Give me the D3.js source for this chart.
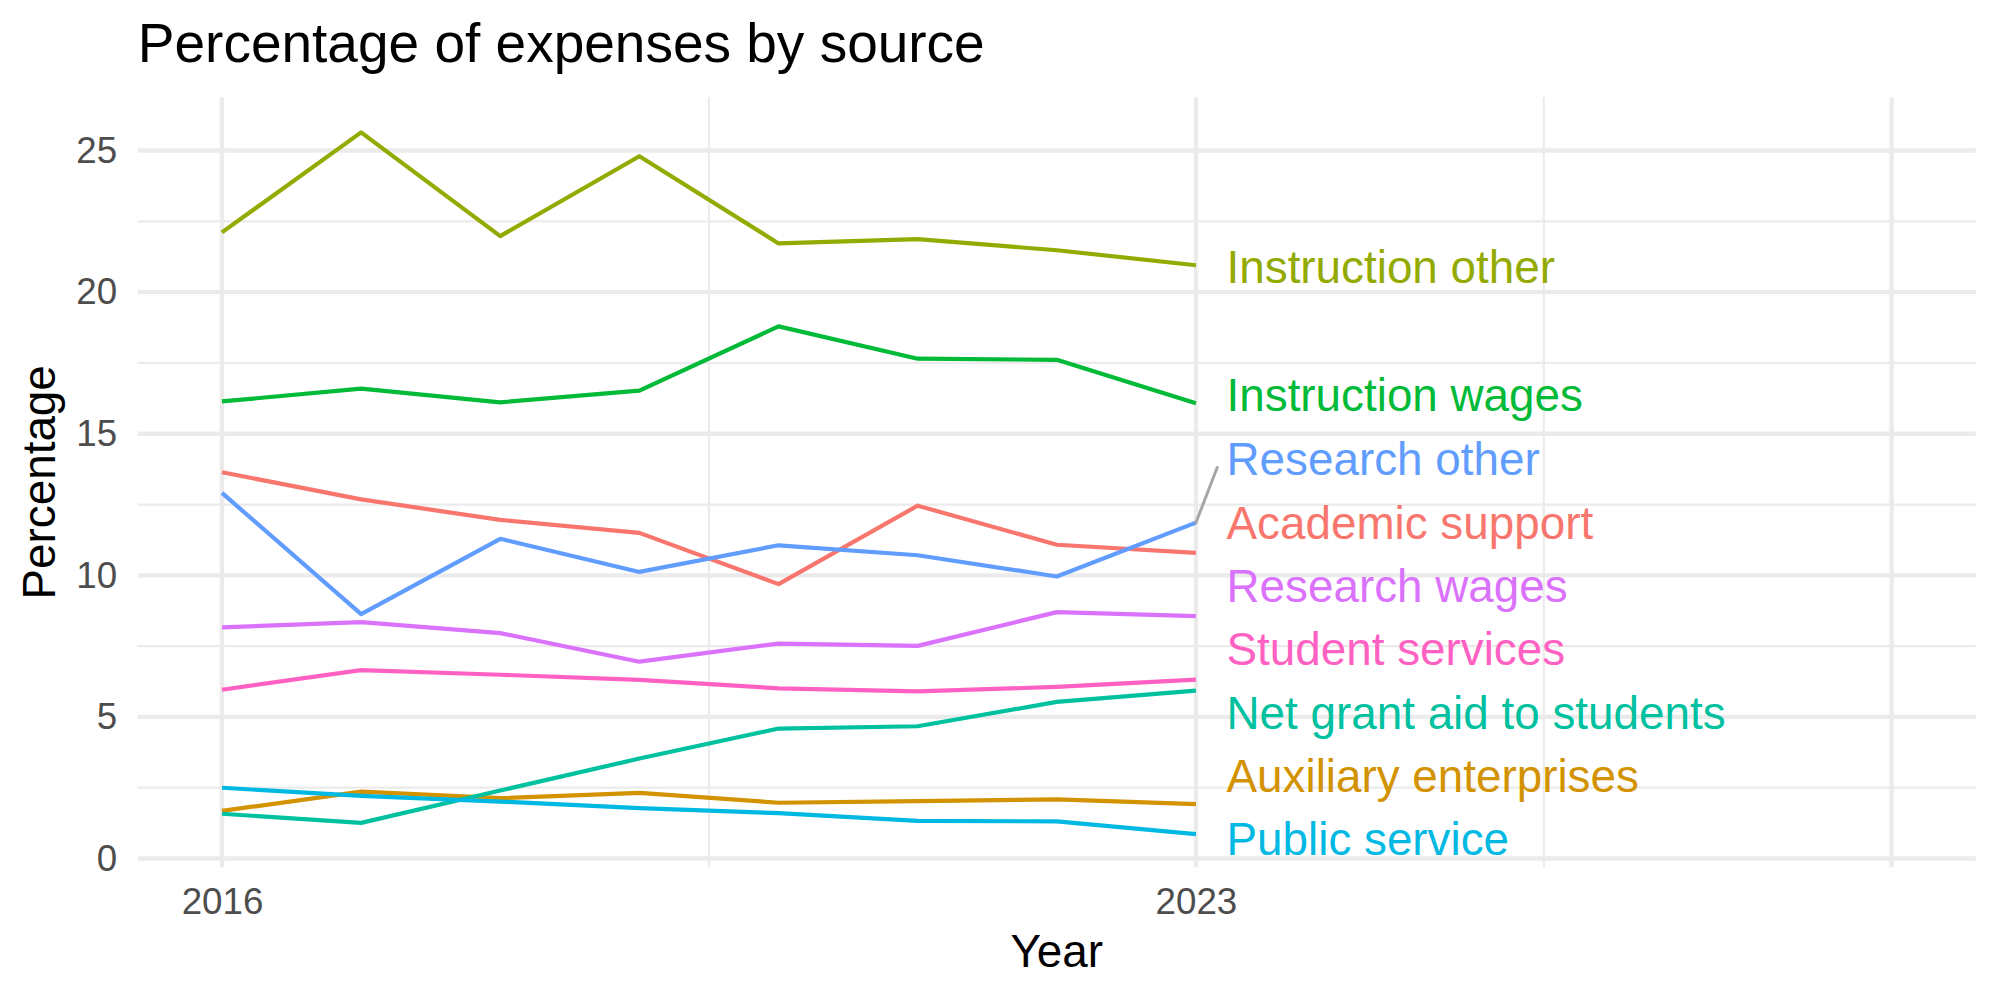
<!DOCTYPE html>
<html>
<head>
<meta charset="utf-8">
<script src="https://cdn.jsdelivr.net/npm/d3@7"></script>
<style>
  body { margin: 0; background: #fff; }
</style>
</head>
<body>
<div id="chart"></div>
<script>
const years = [2016, 2017, 2018, 2019, 2020, 2021, 2022, 2023];

const categories = [
    "Academic support", "Auxiliary enterprises", "Instruction other", "Instruction wages",
    "Net grant aid to students", "Public service", "Research other", "Research wages", "Student services"
];

const academicSupport = [13.64, 12.68, 11.96, 11.50, 9.69, 12.46, 11.08, 10.79];
const auxiliaryEnterprises = [1.68, 2.36, 2.13, 2.32, 1.97, 2.03, 2.09, 1.92];
const instructionOther = [22.11, 25.64, 21.98, 24.80, 21.72, 21.87, 21.48, 20.95];
const instructionWages = [16.14, 16.59, 16.11, 16.52, 18.79, 17.65, 17.61, 16.08];
const netGrantAid = [1.58, 1.26, 2.40, 3.53, 4.59, 4.67, 5.53, 5.93];
const publicService = [2.50, 2.21, 2.01, 1.78, 1.60, 1.33, 1.31, 0.86];
const researchOther = [12.91, 8.63, 11.29, 10.12, 11.06, 10.71, 9.96, 11.86];
const researchWages = [8.16, 8.35, 7.96, 6.95, 7.59, 7.51, 8.70, 8.56];
const studentServices = [5.96, 6.65, 6.49, 6.31, 6.01, 5.90, 6.06, 6.32];

const seriesValues = [
    academicSupport, auxiliaryEnterprises, instructionOther, instructionWages,
    netGrantAid, publicService, researchOther, researchWages, studentServices
];

const colors = ["#F8766D", "#D39200", "#93AA00", "#00BA38", "#00C19F", "#00B9E3", "#619CFF", "#DB72FB", "#FF61C3"];

// where the repelled labels ended up (value units), same order as categories
const labelY = [11.88, 2.93, 20.92, 16.38, 5.17, 0.71, 14.13, 9.64, 7.42];

const xBreaks = [2016, 2023, 2028];
const xTickLabels = ["2016", "2023", ""];
const xMinor = [2019.5, 2025.5];
const yBreaks = [0, 5, 10, 15, 20, 25];
const yMinor = [2.5, 7.5, 12.5, 17.5, 22.5];

const width = 2000;
const height = 1000;
const panel = {left: 137.8, right: 1975.8, top: 97.3, bottom: 867.3};
const font = "'Liberation Sans', Arial, Helvetica, sans-serif";

const x = d3.scaleLinear()
    .domain([2015.395, 2028.605])
    .range([panel.left, panel.right]);

const y = d3.scaleLinear()
    .domain([-0.31, 26.88])
    .range([panel.bottom, panel.top]);

const svg = d3.select("#chart")
    .append("svg")
    .attr("width", width)
    .attr("height", height)
    .attr("font-family", font);

// grid
const grid = svg.append("g").attr("stroke", "#EBEBEB").attr("fill", "none");

grid.selectAll(".ymin")
    .data(yMinor)
    .join("line")
        .attr("x1", panel.left).attr("x2", panel.right)
        .attr("y1", d => y(d)).attr("y2", d => y(d))
        .attr("stroke-width", 2.2);

grid.selectAll(".xmin")
    .data(xMinor)
    .join("line")
        .attr("y1", panel.top).attr("y2", panel.bottom)
        .attr("x1", d => x(d)).attr("x2", d => x(d))
        .attr("stroke-width", 2.2);

grid.selectAll(".ymaj")
    .data(yBreaks)
    .join("line")
        .attr("x1", panel.left).attr("x2", panel.right)
        .attr("y1", d => y(d)).attr("y2", d => y(d))
        .attr("stroke-width", 4.4);

grid.selectAll(".xmaj")
    .data(xBreaks)
    .join("line")
        .attr("y1", panel.top).attr("y2", panel.bottom)
        .attr("x1", d => x(d)).attr("x2", d => x(d))
        .attr("stroke-width", 4.4);

// axes (no ticks, just text)
const yAxis = d3.axisLeft(y).tickValues(yBreaks).tickSize(0).tickPadding(20.7);
svg.append("g")
    .attr("transform", `translate(${panel.left},0)`)
    .call(yAxis)
    .call(g => g.select(".domain").remove())
    .selectAll("text")
        .attr("font-family", font)
        .attr("font-size", 36.7)
        .attr("fill", "#4D4D4D");

const xAxis = d3.axisBottom(x).tickValues(xBreaks).tickSize(0).tickPadding(20.7)
    .tickFormat((d, i) => xTickLabels[i]);
svg.append("g")
    .attr("transform", `translate(0,${panel.bottom})`)
    .call(xAxis)
    .call(g => g.select(".domain").remove())
    .selectAll("text")
        .attr("font-family", font)
        .attr("font-size", 36.7)
        .attr("fill", "#4D4D4D");

// lines
const line = d3.line()
    .x((d, i) => x(years[i]))
    .y(d => y(d));

svg.append("g")
    .selectAll("path")
    .data(seriesValues)
    .join("path")
        .attr("fill", "none")
        .attr("stroke", (d, i) => colors[i])
        .attr("stroke-width", 4.2)
        .attr("stroke-linejoin", "round")
        .attr("d", line);

// repel segment for the one label that moved away from its point
const labelX = 2023.22;
const segIdx = categories.indexOf("Research other");
svg.append("line")
    .attr("x1", x(2023)).attr("y1", y(researchOther[7]))
    .attr("x2", x(2023.153)).attr("y2", y(13.81))
    .attr("stroke", "#A6A6A6")
    .attr("stroke-width", 3)
    .attr("stroke-linecap", "round");

svg.append("g")
    .selectAll("text")
    .data(categories)
    .join("text")
        .attr("x", x(labelX))
        .attr("y", (d, i) => y(labelY[i]))
        .attr("dy", "0.36em")
        .attr("font-size", 45.8)
        .attr("fill", (d, i) => colors[i])
        .text(d => d);

// titles
svg.append("text")
    .attr("x", panel.left)
    .attr("y", 62)
    .attr("font-size", 55)
    .attr("fill", "#000")
    .text("Percentage of expenses by source");

svg.append("text")
    .attr("x", (panel.left + panel.right) / 2)
    .attr("y", 967)
    .attr("text-anchor", "middle")
    .attr("font-size", 45.8)
    .attr("fill", "#000")
    .text("Year");

svg.append("text")
    .attr("transform", `translate(55,${(panel.top + panel.bottom) / 2}) rotate(-90)`)
    .attr("text-anchor", "middle")
    .attr("font-size", 45.8)
    .attr("fill", "#000")
    .text("Percentage");
</script>
</body>
</html>
